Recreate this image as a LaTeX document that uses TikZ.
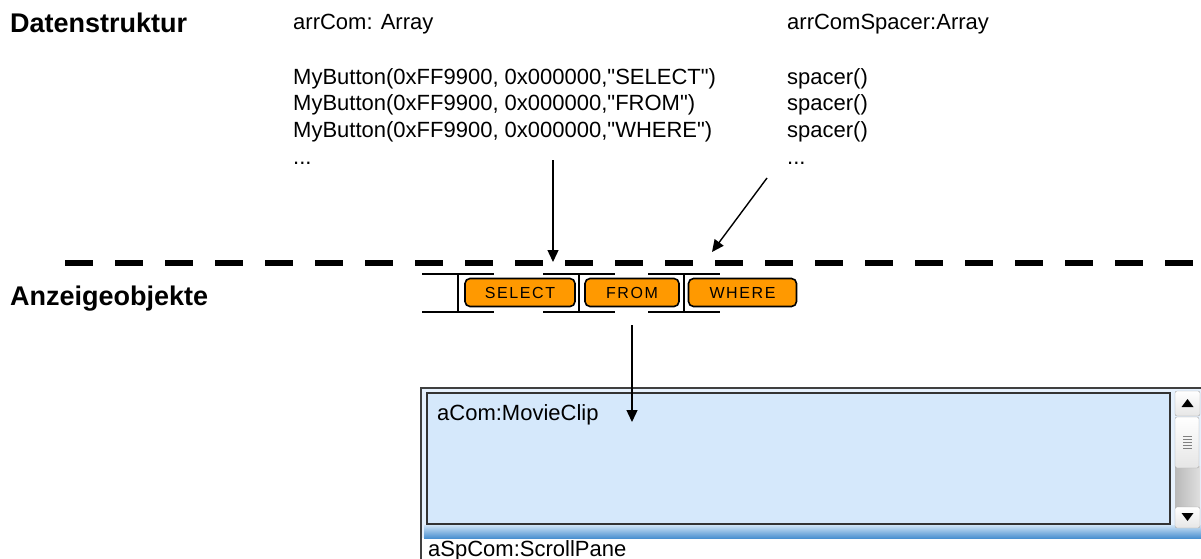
\documentclass[tikz,border=0pt]{standalone}
\usepackage{fontspec}
\setmainfont{Liberation Sans}[Ligatures=TeXOff]
\newfontfamily\btnfont[LetterSpace=10]{Liberation Sans}
\usetikzlibrary{arrows.meta}
\definecolor{btnorange}{HTML}{FF9900}
\definecolor{paneblue}{HTML}{D5E8FB}
\definecolor{bandtop}{HTML}{CFE4F7}
\definecolor{bandbot}{HTML}{4A90D0}
\begin{document}
\begin{tikzpicture}[x=1pt,y=-1pt,
    txt/.style={anchor=base west,inner sep=0pt,font=\fontsize{22}{26}\selectfont},
    head/.style={anchor=base west,inner sep=0pt,font=\fontsize{27}{30}\selectfont\bfseries},
    btn/.style={draw=black,line width=1.6pt,fill=btnorange,rounded corners=5pt,
      minimum height=28pt,inner sep=0pt,text=black,font=\fontsize{16}{18}\btnfont},
    link/.style={line width=1.4pt,-{Triangle[width=11pt,length=12pt]}},
    sbbtn/.style={draw=gray!70,rounded corners=2pt,top color=white,bottom color=gray!20}
  ]
  \useasboundingbox (0,0) rectangle (1201,559);
  % headings
  \node[head] (datahead) at (10,33) {Datenstruktur};
  \node[head] (viewhead) at (10,305) {Anzeigeobjekte};
  % data structure
  \node[txt] (arrcom) at (293,30) {arrCom: Array};
  \node[txt] (btnsel) at (293,85) {MyButton(0xFF9900, 0x000000,"SELECT")};
  \node[txt] (btnfrom) at (293,111) {MyButton(0xFF9900, 0x000000,"FROM")};
  \node[txt] (btnwhere) at (293,138) {MyButton(0xFF9900, 0x000000,"WHERE")};
  \node[txt] (btnmore) at (293,164) {...};
  \node[txt] (arrspc) at (787,30) {arrComSpacer:Array};
  \node[txt] (spc1) at (787,85) {spacer()};
  \node[txt] (spc2) at (787,111) {spacer()};
  \node[txt] (spc3) at (787,138) {spacer()};
  \node[txt] (spcmore) at (787,164) {...};
  % separator
  \draw[line width=6pt,dash pattern=on 28pt off 22pt] (65,263) -- (1201,263);
  % display objects: spacers and buttons
  \foreach \x in {458,579,684} {
    \draw[line width=1.8pt] (\x-36,274) -- (\x+36,274) (\x-36,312) -- (\x+36,312);
    \draw[line width=2pt] (\x,274) -- (\x,312);
  }
  \node[btn,minimum width=110pt] (bsel) at (520,292.5) {SELECT};
  \node[btn,minimum width=94pt] (bfrom) at (632,292.5) {FROM};
  \node[btn,minimum width=108pt] (bwhere) at (742.5,292.5) {WHERE};
  % scroll pane
  \fill[paneblue!60] (421,388) rectangle (1201,538);
  \shade[top color=bandtop,bottom color=bandbot] (424,525) rectangle (1201,538);
  \draw[black!75,line width=1.5pt] (421,559) -- (421,388) -- (1201,388);
  \draw[black!80,line width=2pt,fill=paneblue] (427,393) rectangle (1170,524);
  \node[txt] (movie) at (437,420) {aCom:MovieClip};
  \node[txt] (pane) at (428,556) {aSpCom:ScrollPane};
  % scrollbar
  \shade[left color=gray!55,right color=gray!25] (1175,466) rectangle (1200,507);
  \draw[sbbtn] (1175,391) rectangle (1200,416);
  \draw[sbbtn] (1175,417) rectangle (1199,468);
  \draw[sbbtn] (1175,507) rectangle (1200,528);
  \fill (1187.5,399) -- (1193.5,407) -- (1181.5,407) -- cycle;
  \fill (1187.5,521) -- (1193.5,513) -- (1181.5,513) -- cycle;
  \foreach \y in {436,439,442,445,448}
    \draw[gray,line width=0.8pt] (1183,\y) -- (1192,\y);
  % connectors
  \coordinate (a1s) at (553,160);
  \coordinate (a1e) at (553,262);
  \coordinate (a2s) at (767,178);
  \coordinate (a2e) at (712,252);
  \coordinate (a3s) at (632,325);
  \coordinate (a3e) at (632,422);
  \draw[link] (a1s) -- (a1e);
  \draw[link] (a2s) -- (a2e);
  \draw[link] (a3s) -- (a3e);
\end{tikzpicture}
\end{document}
